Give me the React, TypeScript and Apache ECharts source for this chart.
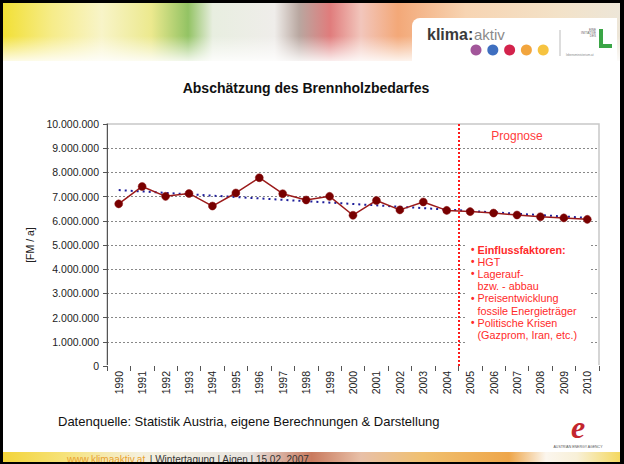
import React, { useEffect, useRef } from "react";
import * as echarts from "echarts";

const categories = [
  "1990", "1991", "1992", "1993", "1994", "1995", "1996", "1997", "1998", "1999", "2000",
  "2001", "2002", "2003", "2004", "2005", "2006", "2007", "2008", "2009", "2010",
];
const demand = [
  6700000, 7420000, 7010000, 7130000, 6610000, 7150000, 7780000, 7120000, 6860000, 7010000,
  6230000, 6840000, 6450000, 6780000, 6430000, 6380000, 6320000, 6240000, 6170000, 6120000, 6060000,
];
const trendStart = 7270000;
const trendEnd = 6120000;
const yMin = 0;
const yMax = 10000000;
const yStep = 1000000;
const prognoseBoundary = 14.5; // between 2004 and 2005
const annotationLines = [
  { bullet: true, text: "Einflussfaktoren:", bold: true },
  { bullet: true, text: "HGT" },
  { bullet: true, text: "Lagerauf-" },
  { bullet: false, text: "bzw. - abbau" },
  { bullet: true, text: "Preisentwicklung" },
  { bullet: false, text: "fossile Energieträger" },
  { bullet: true, text: "Politische Krisen" },
  { bullet: false, text: "(Gazprom, Iran, etc.)" },
];
const logoDots = ["#a2569a", "#3f6fc0", "#d3234c", "#f2a53d", "#f6c340"];

const FONT = "'Liberation Sans', Arial, sans-serif";

function fmt(v: number): string {
  return String(Math.round(v)).replace(/\B(?=(\d{3})+(?!\d))/g, ".");
}

export default function App() {
  const ref = useRef<HTMLDivElement>(null);
  useEffect(() => {
    document.body.style.margin = "0";
    if (!ref.current) return;
    const chart = echarts.init(ref.current, null, { renderer: "svg" });

    const trend = categories.map((_, i) =>
      i === 0 ? trendStart : i === categories.length - 1 ? trendEnd : null
    );

    const annTexts: any[] = [];
    annotationLines.forEach((l, i) => {
      const y = 249.5 + i * 12.2;
      if (l.bullet) {
        annTexts.push({
          type: "text", x: 471, y, z: 101,
          style: { text: "•", fill: "#ff2a2a", font: `bold 10px ${FONT}`, textVerticalAlign: "middle" },
        });
      }
      annTexts.push({
        type: "text", x: 477.5, y, z: 101,
        style: {
          text: l.text, fill: "#ff2a2a",
          font: `${l.bold ? "bold " : ""}10.8px ${FONT}`,
          textVerticalAlign: "middle",
        },
      });
    });

    const option: any = {
      animation: false,
      backgroundColor: "#ffffff",
      grid: {
        left: 107, right: 25, top: 124, bottom: 98,
        show: true, borderColor: "#c8c8c8", borderWidth: 1.5,
      },
      xAxis: [
        {
          type: "category", data: categories, boundaryGap: true,
          axisLine: { show: true, lineStyle: { color: "#ffffff", width: 2 } },
          axisTick: { show: true, length: 5, alignWithLabel: false, lineStyle: { color: "#555" } },
          axisLabel: { rotate: 90, fontSize: 10.5, color: "#222", margin: 5, fontFamily: FONT },
          splitLine: { show: false },
        },
        { type: "value", min: -0.5, max: 20.5, show: false },
      ],
      yAxis: {
        type: "value", min: yMin, max: yMax, interval: yStep,
        name: "[FM / a]", nameLocation: "middle", nameGap: 64,
        nameTextStyle: { fontSize: 10.5, color: "#222", fontFamily: FONT },
        axisLine: { show: true, onZero: false, lineStyle: { color: "#555", width: 1 } },
        axisTick: { show: true, length: 4, lineStyle: { color: "#555" } },
        axisLabel: { formatter: (v: number) => fmt(v), fontSize: 10.5, color: "#222", margin: 8, fontFamily: FONT },
        splitLine: { show: true, showMaxLine: false, showMinLine: false, lineStyle: { color: "#888", type: [2, 2], width: 1 } },
      },
      series: [
        {
          type: "line", data: trend, connectNulls: true, symbol: "none", z: 2,
          lineStyle: { color: "#1e1e9a", width: 2, type: [2, 4] },
        },
        {
          type: "line", data: demand, symbol: "circle", symbolSize: 8, z: 3,
          itemStyle: { color: "#780000", borderColor: "#8a1010", borderWidth: 0.5 },
          lineStyle: { color: "#9b1b1b", width: 1.5 },
        },
        {
          type: "line", xAxisIndex: 1, data: [], z: 4,
          markLine: {
            silent: true, symbol: "none", label: { show: false },
            lineStyle: { color: "#ff1a1a", type: [2, 2], width: 2 },
            data: [{ xAxis: prognoseBoundary }],
          },
        },
      ],
      graphic: [
        // header banner
        {
          type: "rect", shape: { x: 3, y: 3, width: 617, height: 58 }, z: 1,
          style: {
            fill: new echarts.graphic.LinearGradient(0, 0, 1, 0, [
              { offset: 0, color: "#f2e035" },
              { offset: 0.08, color: "#f6ec8a" },
              { offset: 0.16, color: "#f8f4c8" },
              { offset: 0.24, color: "#ece98e" },
              { offset: 0.3, color: "#93c364" },
              { offset: 0.34, color: "#e8eee0" },
              { offset: 0.44, color: "#efedea" },
              { offset: 0.48, color: "#b9a7a0" },
              { offset: 0.53, color: "#e07c7c" },
              { offset: 0.58, color: "#f2c6bc" },
              { offset: 0.64, color: "#f3a878" },
              { offset: 0.75, color: "#f7d4b2" },
              { offset: 0.9, color: "#f3e2c8" },
              { offset: 1, color: "#ede6d8" },
            ]),
          },
        },
        {
          type: "rect", shape: { x: 3, y: 36, width: 617, height: 26 }, z: 2,
          style: {
            fill: new echarts.graphic.LinearGradient(0, 0, 0, 1, [
              { offset: 0, color: "rgba(255,255,255,0)" },
              { offset: 1, color: "rgba(255,255,255,0.9)" },
            ]),
          },
        },
        { type: "rect", shape: { x: 412, y: 18, width: 205, height: 50, r: [8, 0, 0, 0] }, z: 3, style: { fill: "#ffffff" } },
        { type: "text", x: 427, y: 34, z: 4, style: { text: "klima:", fill: "#3a3a3a", font: `bold 16px ${FONT}`, textVerticalAlign: "middle" } },
        { type: "text", x: 474, y: 34, z: 4, style: { text: "aktiv", fill: "#8a8a8a", font: `15px ${FONT}`, textVerticalAlign: "middle" } },
        ...logoDots.map((c, i) => ({
          type: "circle", shape: { cx: 476 + i * 16.8, cy: 50, r: 5.5 }, z: 4, style: { fill: c },
        })),
        { type: "line", shape: { x1: 560, y1: 30, x2: 560, y2: 56 }, z: 4, style: { stroke: "#bbb", lineWidth: 1 } },
        { type: "rect", shape: { x: 599, y: 29, width: 4, height: 19 }, z: 4, style: { fill: "#3aa546" } },
        { type: "rect", shape: { x: 599, y: 44, width: 13, height: 4 }, z: 4, style: { fill: "#3aa546" } },
        { type: "text", x: 596, y: 33, z: 4, style: { text: "EINE\nINITIATIVE\nDES", fill: "#666", font: `3px ${FONT}`, textAlign: "right", textVerticalAlign: "middle" } },
        { type: "text", x: 566, y: 55, z: 4, style: { text: "lebensministerium.at", fill: "#888", font: `3px ${FONT}`, textVerticalAlign: "middle" } },
        // title
        { type: "text", x: 306, y: 88, z: 10, style: { text: "Abschätzung des Brennholzbedarfes", fill: "#111", font: `bold 14px ${FONT}`, textAlign: "center", textVerticalAlign: "middle" } },
        // Prognose label
        { type: "text", x: 517, y: 136, z: 10, style: { text: "Prognose", fill: "#ff3b3b", font: `12px ${FONT}`, textAlign: "center", textVerticalAlign: "middle" } },
        // annotation box
        { type: "rect", shape: { x: 467, y: 239, width: 124, height: 106 }, z: 100, style: { fill: "#ffffff" } },
        ...annTexts,
        // source
        { type: "text", x: 58, y: 421, z: 10, style: { text: "Datenquelle: Statistik Austria, eigene Berechnungen & Darstellung", fill: "#111", font: `13px ${FONT}`, textVerticalAlign: "middle" } },
        // agency logo
        { type: "text", x: 578, y: 427, z: 10, style: { text: "e", fill: "#c3262e", font: `italic bold 32px 'Liberation Serif', serif`, textAlign: "center", textVerticalAlign: "middle" } },
        { type: "text", x: 578, y: 447, z: 10, style: { text: "AUSTRIAN ENERGY AGENCY", fill: "#555", font: `3.5px ${FONT}`, textAlign: "center", textVerticalAlign: "middle" } },
        // footer banner
        {
          type: "rect", shape: { x: 3, y: 452, width: 617, height: 10 }, z: 1,
          style: {
            fill: new echarts.graphic.LinearGradient(0, 0, 1, 0, [
              { offset: 0, color: "#f3d43a" },
              { offset: 0.1, color: "#f6e27a" },
              { offset: 0.22, color: "#f4f0dc" },
              { offset: 0.4, color: "#e8e4e0" },
              { offset: 0.5, color: "#c97a5e" },
              { offset: 0.58, color: "#e8c0a8" },
              { offset: 0.68, color: "#f0c070" },
              { offset: 0.82, color: "#eea64a" },
              { offset: 0.88, color: "#fbf6ee" },
              { offset: 0.93, color: "#f8f0d8" },
              { offset: 1, color: "#f4d860" },
            ]),
          },
        },
        { type: "text", x: 67, y: 459, z: 10, style: { text: "www.klimaaktiv.at", fill: "#e9a12f", font: `10px ${FONT}`, textVerticalAlign: "middle" } },
        { type: "text", x: 147, y: 459, z: 10, style: { text: " | Wintertagung | Aigen | 15.02. 2007", fill: "#333", font: `10px ${FONT}`, textVerticalAlign: "middle" } },
        // black frame
        { type: "rect", shape: { x: 0, y: 0, width: 624, height: 3 }, z: 200, style: { fill: "#000" } },
        { type: "rect", shape: { x: 0, y: 0, width: 3, height: 464 }, z: 200, style: { fill: "#000" } },
        { type: "rect", shape: { x: 620, y: 0, width: 4, height: 464 }, z: 200, style: { fill: "#000" } },
        { type: "rect", shape: { x: 0, y: 462, width: 624, height: 2 }, z: 200, style: { fill: "#000" } },
      ],
    };
    chart.setOption(option);
    return () => chart.dispose();
  }, []);
  return <div ref={ref} style={{ width: 624, height: 464 }} />;
}
